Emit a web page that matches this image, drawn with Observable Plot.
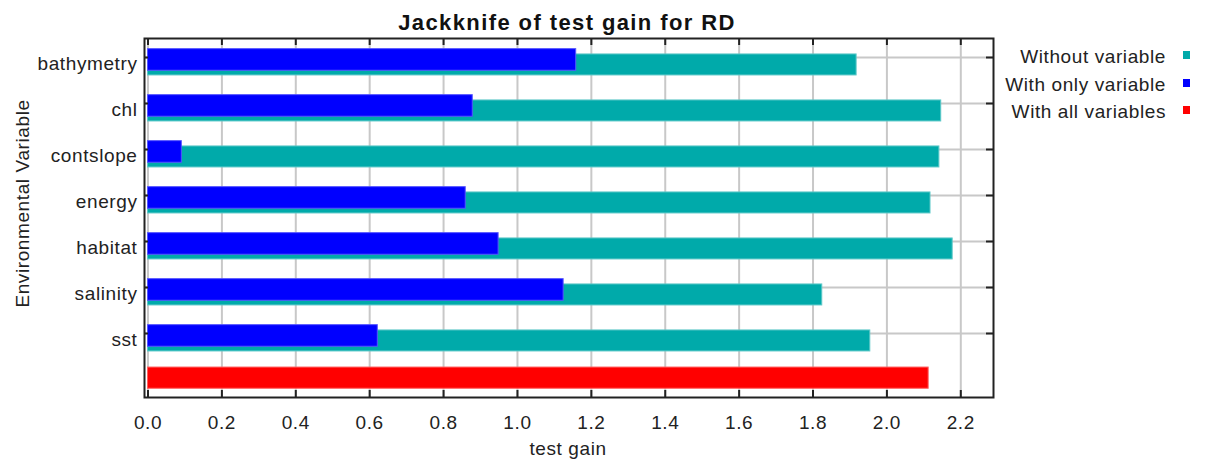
<!DOCTYPE html>
<html><head><meta charset="utf-8">
<script src="https://cdn.jsdelivr.net/npm/d3@7"></script>
<script src="https://cdn.jsdelivr.net/npm/@observablehq/plot@0.6"></script>
<style>
body{margin:0;background:#fff;font-family:"Liberation Sans",Arial,sans-serif;}
#wrap{position:relative;width:1207px;height:461px;}
#wrap svg{position:absolute;left:0;top:0;}
#wrap svg text{letter-spacing:0.6px;}
#wrap svg text.title{letter-spacing:1.4px;}
#legend{position:absolute;right:17px;top:41.5px;font-size:19px;color:#222;letter-spacing:0.6px;}
.row{display:flex;justify-content:flex-end;align-items:center;height:27.4px;}
.row span.t{position:relative;top:2px;}
.sw{width:7px;height:8px;margin-left:17px;}
</style></head><body><div id="wrap"><div id="legend"></div></div>
<script>
const variables = ["bathymetry","chl","contslope","energy","habitat","salinity","sst"];
const withoutVariable = [1.918,2.147,2.142,2.118,2.178,1.825,1.955];
const withOnlyVariable = [1.159,0.879,0.0915,0.860,0.949,1.125,0.622];
const allLabel = "all";
const withAllVariables = 2.113;
const xTicks = [0,0.2,0.4,0.6,0.8,1.0,1.2,1.4,1.6,1.8,2.0,2.2];
const legendLabels = ["Without variable","With only variable","With all variables"];
const legendColors = ["#00aaaa","#0000ff","#ff0000"];
const titleText = "Jackknife of test gain for RD";
const xLabel = "test gain";
const yLabel = "Environmental Variable";

const rows = variables.map((v,i)=>({variable:v, without:withoutVariable[i], only:withOnlyVariable[i]}));
const allRow = [{variable:allLabel, value:withAllVariables}];

const W=1207,H=461,mL=144,mR=214,mT=38,mB=64;
const frameW=W-mL-mR, frameH=H-mT-mB;
const step=46.5, firstC=55, lastC=firstC+7*step;
const ink="#222";

const chart = Plot.plot({
  width:W, height:H, marginLeft:mL, marginRight:mR, marginTop:mT, marginBottom:mB,
  style:{fontFamily:'"Liberation Sans",Arial,sans-serif', fontSize:"19px", color:ink, background:"transparent"},
  x:{domain:[-0.0095,2.2885]},
  y:{type:"band", domain:[...variables, allLabel], range:[firstC-step/2, lastC+step/2], padding:0},
  marks:[
    Plot.gridX(xTicks,{stroke:"#c8c8c8",strokeOpacity:1,strokeWidth:2}),
    Plot.gridY(variables,{stroke:"#c8c8c8",strokeOpacity:1,strokeWidth:2}),
    Plot.barX(rows,{y:"variable",x:"without",fill:legendColors[0],stroke:"#5cc8c8",strokeWidth:1,insetTop:19.95,insetBottom:5.05}),
    Plot.barX(rows,{y:"variable",x:"only",fill:legendColors[1],stroke:"#5555ff",strokeWidth:1,insetTop:14.65,insetBottom:9.75}),
    Plot.barX(allRow,{y:"variable",x:"value",fill:legendColors[2],stroke:"#ff6060",strokeWidth:1,insetTop:11.05,insetBottom:13.75}),
    Plot.frame({stroke:ink,strokeWidth:2}),
    Plot.tickX(xTicks,{x:d=>d,insetTop:frameH-7,stroke:ink,strokeWidth:2}),
    Plot.tickX(xTicks,{x:d=>d,insetBottom:frameH-7,stroke:ink,strokeWidth:2}),
    Plot.tickY(variables,{y:d=>d,insetRight:frameW-4,stroke:ink,strokeWidth:2}),
    Plot.tickY(variables,{y:d=>d,insetLeft:frameW-7,stroke:ink,strokeWidth:2}),
    Plot.axisX(xTicks,{tickSize:0,tickPadding:18,tickFormat:d3.format(".1f"),label:null,fontSize:19,fill:ink}),
    Plot.axisY(variables,{tickSize:0,tickPadding:7,label:null,fontSize:19,fill:ink,dy:6.5}),
    Plot.text([titleText],{frameAnchor:"top",lineAnchor:"middle",textAnchor:"middle",dx:-2,dy:-16,text:d=>d,fontWeight:"bold",fontSize:22,fill:"#111"}),
    Plot.text([xLabel],{frameAnchor:"bottom",lineAnchor:"middle",textAnchor:"middle",dx:-1,dy:51,text:d=>d,fontSize:19,fill:ink}),
    Plot.text([yLabel],{frameAnchor:"left",lineAnchor:"middle",textAnchor:"middle",rotate:-90,dx:-122,dy:-14.5,text:d=>d,fontSize:19,fill:ink})
  ]
});
chart.querySelectorAll("text").forEach(t=>{ if(t.textContent===titleText) t.classList.add("title"); });
const wrap=document.getElementById("wrap");
wrap.insertBefore(chart, wrap.firstChild);
const legend=document.getElementById("legend");
legendLabels.forEach((l,i)=>{
  const r=document.createElement("div"); r.className="row";
  const t=document.createElement("span"); t.className="t"; t.textContent=l;
  const s=document.createElement("span"); s.className="sw"; s.style.background=legendColors[i];
  r.appendChild(t); r.appendChild(s); legend.appendChild(r);
});
</script></body></html>
